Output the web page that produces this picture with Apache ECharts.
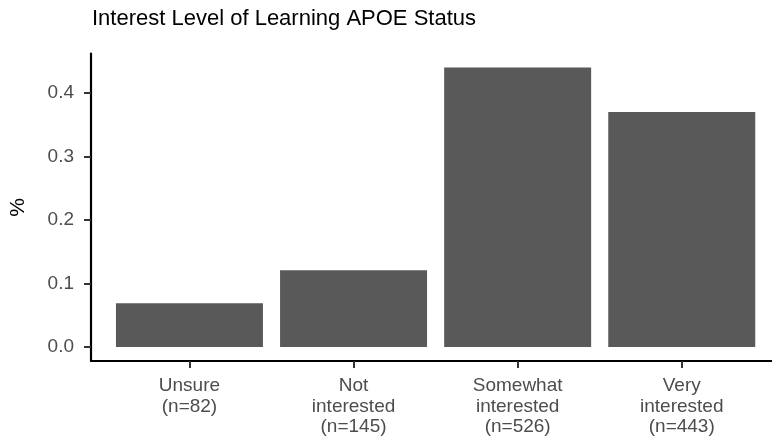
<!DOCTYPE html>
<html>
<head>
<meta charset="utf-8">
<script src="https://cdn.jsdelivr.net/npm/echarts@6/dist/echarts.min.js"></script>
<style>html,body{margin:0;padding:0;background:#fff}#c{width:772px;height:445px}</style>
</head>
<body>
<div id="c"></div>
<script>
const categories = ["Unsure\n(n=82)", "Not\ninterested\n(n=145)", "Somewhat\ninterested\n(n=526)", "Very\ninterested\n(n=443)"];
const values = [0.069, 0.121, 0.440, 0.370];
const yTicks = [0.0, 0.1, 0.2, 0.3, 0.4];

const chart = echarts.init(document.getElementById('c'), null, {renderer: 'canvas'});
const FONT = '"Liberation Sans", Arial, sans-serif';
chart.setOption({
  animation: false,
  backgroundColor: '#ffffff',
  title: {
    text: 'Interest Level of Learning APOE Status',
    left: 92, top: 8, padding: 0,
    textStyle: {fontFamily: FONT, fontSize: 22, fontWeight: 'normal', color: '#000'}
  },
  grid: {left: 91, right: 0, top: 53.6, bottom: 84, containLabel: false},
  xAxis: {
    type: 'value', min: 0.4, max: 4.55,
    splitLine: {show: false},
    axisLine: {show: true, onZero: false, lineStyle: {color: '#000', width: 2.2}},
    axisTick: {show: true, customValues: [1, 2, 3, 4], length: 7, lineStyle: {color: '#333', width: 2}},
    axisLabel: {
      customValues: [1, 2, 3, 4],
      formatter: v => categories[Math.round(v) - 1] || '',
      fontFamily: FONT, fontSize: 19, color: '#4d4d4d', lineHeight: 20.5, margin: 15, align: 'center', verticalAlign: 'top'
    }
  },
  yAxis: {
    type: 'value', min: -0.022, max: 0.462,
    name: '%', nameLocation: 'middle', nameGap: 62, nameRotate: 90,
    nameTextStyle: {fontFamily: FONT, fontSize: 21, color: '#000'},
    splitLine: {show: false},
    axisLine: {show: true, onZero: false, lineStyle: {color: '#000', width: 2.2}},
    axisTick: {show: true, customValues: yTicks, length: 7, lineStyle: {color: '#333', width: 2}},
    axisLabel: {
      customValues: yTicks,
      formatter: v => v.toFixed(1),
      fontFamily: FONT, fontSize: 19, color: '#4d4d4d', margin: 17
    }
  },
  series: [{
    type: 'bar',
    data: values.map((v, i) => [i + 1, v]),
    barWidth: 147,
    itemStyle: {color: '#595959'}
  }]
});
</script>
</body>
</html>
